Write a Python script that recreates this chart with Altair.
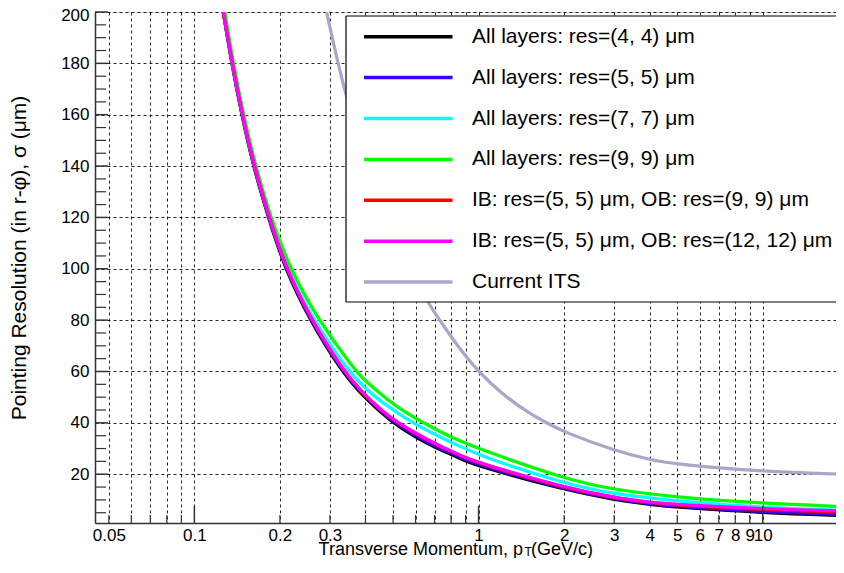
import altair as alt
import pandas as pd

# ---------------- data ----------------
series_labels = [
    "All layers: res=(4, 4) μm",
    "All layers: res=(5, 5) μm",
    "All layers: res=(7, 7) μm",
    "All layers: res=(9, 9) μm",
    "IB: res=(5, 5) μm, OB: res=(9, 9) μm",
    "IB: res=(5, 5) μm, OB: res=(12, 12) μm",
    "Current ITS",
]
series_colors = ["#000000", "#3d00ff", "#00ffff", "#00ff00", "#ff0000", "#ff00ff", "#aba5c8"]

pt_common = [0.1264, 0.1353, 0.1467, 0.1611, 0.182, 0.2083, 0.2549, 0.3294, 0.4, 0.4935,
             0.6, 0.7, 0.8, 0.9, 1, 2, 3, 4, 5, 10, 19.2]
sigma_4 = [200, 180, 160, 140, 120, 100, 80, 60, 49.3, 40.3, 34.4, 30.5, 27.7, 25.1, 23.1,
           13.9, 10.1, 8.2, 7.1, 5.0, 3.9]
sigma_5 = [200, 180.5, 160.5, 140.5, 120.5, 100.5, 80.5, 60.5, 49.8, 40.8, 35.0, 31.0, 28.2,
           25.6, 23.6, 14.2, 10.4, 8.5, 7.5, 5.3, 4.3]
sigma_ib5_ob9 = [200, 181, 161, 141, 121, 101, 81, 61, 50.2, 41.3, 35.8, 31.8, 28.8, 26.3,
                 24.2, 14.6, 10.8, 8.8, 7.9, 6.1, 5.2]
sigma_ib5_ob12 = [200, 181, 161, 141, 121, 101, 81, 61.2, 50.4, 41.5, 36.0, 32.0, 29.0, 26.5,
                  24.5, 14.8, 11.0, 9.0, 8.2, 6.5, 5.7]

pt_7 = [0.1268, 0.1358, 0.1473, 0.162, 0.1835, 0.2115, 0.262, 0.348, 0.4, 0.449, 0.6, 0.8, 1,
        2, 3, 5, 10, 19.2]
sigma_7 = [200, 180, 160, 140, 120, 100, 80, 60, 53.4, 48.5, 39.0, 32.5, 27.3, 16.3, 12.2, 9.5,
           7.0, 5.9]

pt_9 = [0.128, 0.137, 0.1487, 0.164, 0.1854, 0.2168, 0.2727, 0.367, 0.4, 0.449, 0.5, 0.6, 0.7,
        0.8, 1, 2, 3, 5, 10, 19.2]
sigma_9 = [200, 180, 160, 140, 120, 100, 80, 60.5, 56.3, 51.5, 47.3, 41.6, 37.7, 34.4, 29.9,
           18.2, 13.9, 11.0, 8.6, 7.4]

pt_its = [0.2918, 0.338, 0.4, 0.5, 0.656, 0.7, 0.8, 0.9, 1, 1.2, 1.5, 1.735, 2, 3, 4, 5, 10, 19.2]
sigma_its = [200, 168, 143, 115, 87.6, 83, 73.5, 66, 60, 51.5, 43.8, 40, 36.4, 29.2, 25.6, 23.8,
             21, 20]

x_grid_values = [0.05, 0.06, 0.07, 0.08, 0.09, 0.1, 0.2, 0.3, 0.4, 0.5, 0.6, 0.7, 0.8, 0.9,
                 1, 2, 3, 4, 5, 6, 7, 8, 9, 10]
x_label_values = [0.05, 0.1, 0.2, 0.3, 1, 2, 3, 4, 5, 6, 7, 8, 9, 10]
x_major_ticks = [0.1, 1, 10]
y_major_values = [20, 40, 60, 80, 100, 120, 140, 160, 180, 200]
y_minor_values = [v for v in range(5, 200, 5) if v % 20 != 0]

# ---------------- build tables ----------------
curves = [
    (sigma_4, pt_common), (sigma_5, pt_common), (sigma_7, pt_7), (sigma_9, pt_9),
    (sigma_ib5_ob9, pt_common), (sigma_ib5_ob12, pt_common), (sigma_its, pt_its),
]
rows = []
for name, (sig, pts) in zip(series_labels, curves):
    for p, s in zip(pts, sig):
        rows.append({"series": name, "pt": p, "sigma": s})
df = pd.DataFrame(rows)

x_minor = [v for v in x_grid_values if v not in x_major_ticks]
df_xmin = pd.DataFrame({"v": x_minor})
df_xmaj = pd.DataFrame({"v": x_major_ticks})
df_ymaj = pd.DataFrame({"v": y_major_values})
df_ymin = pd.DataFrame({"v": y_minor_values})

W, H = 741, 511
FONT = "Liberation Sans"

xscale = alt.Scale(type="log", domain=[0.0447, 18.1], nice=False)
yscale = alt.Scale(domain=[1, 200], nice=False, zero=False)

label_list = "[" + ",".join(repr(v) for v in x_label_values) + "]"
x_axis = alt.Axis(
    values=x_grid_values, grid=True, gridColor="black", gridDash=[3, 3], gridOpacity=0.85,
    ticks=False, domainColor="#333333", domainWidth=1.5, labelFont=FONT, labelFontSize=17,
    labelColor="black", labelPadding=4, labelFlush=False, labelOverlap=False, title=None,
    labelExpr=f"indexof({label_list}, datum.value) >= 0 ? '' + datum.value : ''",
)
y_axis = alt.Axis(
    values=y_major_values, grid=True, gridColor="black", gridDash=[3, 3], gridOpacity=0.85,
    ticks=False, domainColor="#333333", domainWidth=1.5, labelFont=FONT, labelFontSize=17,
    labelColor="black", labelPadding=6, labelOverlap=False, title=None,
    labelOffset=alt.condition("datum.value == 200", alt.value(3), alt.value(0)),
)

layers = []
for name, color in zip(series_labels, series_colors):
    layers.append(
        alt.Chart(df).transform_filter(alt.datum.series == name)
        .mark_line(color=color, strokeWidth=3.2, interpolate="basis", clip=True)
        .encode(
            x=alt.X("pt:Q", scale=xscale, axis=x_axis),
            y=alt.Y("sigma:Q", scale=yscale, axis=y_axis),
        )
    )

tick_x_minor = alt.Chart(df_xmin).mark_rule(color="#333333", strokeWidth=1.2).encode(
    x=alt.X("v:Q", scale=xscale, axis=x_axis), y=alt.value(H), y2=alt.value(H - 8))
tick_x_major = alt.Chart(df_xmaj).mark_rule(color="#333333", strokeWidth=1.5).encode(
    x=alt.X("v:Q", scale=xscale, axis=x_axis), y=alt.value(H), y2=alt.value(H - 17))
tick_y_minor = alt.Chart(df_ymin).mark_rule(color="#333333", strokeWidth=1.2).encode(
    y=alt.Y("v:Q", scale=yscale, axis=y_axis), x=alt.value(0), x2=alt.value(11))
tick_y_major = alt.Chart(df_ymaj).mark_rule(color="#333333", strokeWidth=1.5).encode(
    y=alt.Y("v:Q", scale=yscale, axis=y_axis), x=alt.value(0), x2=alt.value(13))

# ---------------- legend box (open on the right: it runs past the picture's edge) ----------------
one = pd.DataFrame({"a": [0]})
BX0, BX1, BY0, BY1 = 251, 760, 4, 290
legend_layers = [
    alt.Chart(one).mark_rect(fill="white", strokeWidth=0, clip=False)
    .encode(x=alt.value(BX0), x2=alt.value(BX1), y=alt.value(BY0), y2=alt.value(BY1)),
    alt.Chart(one).mark_rule(color="black", strokeWidth=1.2)
    .encode(x=alt.value(BX0), x2=alt.value(BX1), y=alt.value(BY0)),
    alt.Chart(one).mark_rule(color="black", strokeWidth=1.2)
    .encode(x=alt.value(BX0), x2=alt.value(BX1), y=alt.value(BY1)),
    alt.Chart(one).mark_rule(color="black", strokeWidth=1.2)
    .encode(x=alt.value(BX0), y=alt.value(BY0), y2=alt.value(BY1)),
]
row_top, row_step = 24.7, 40.9
for i, (name, color) in enumerate(zip(series_labels, series_colors)):
    yy = row_top + i * row_step
    legend_layers.append(
        alt.Chart(one).mark_rule(color=color, strokeWidth=3.5)
        .encode(x=alt.value(269), x2=alt.value(357.5), y=alt.value(yy))
    )
    legend_layers.append(
        alt.Chart(pd.DataFrame({"label": [name]})).mark_text(
            align="left", baseline="middle", font=FONT, fontSize=21, color="black"
        ).encode(x=alt.value(377), y=alt.value(yy), text="label:N")
    )

# ---------------- axis titles ----------------
def txt(s, x, y, size=18, align="center", angle=0):
    kw = dict(align=align, baseline="middle", font=FONT, fontSize=size, color="black")
    if angle:
        kw["angle"] = angle
    return alt.Chart(pd.DataFrame({"t": [s]})).mark_text(**kw).encode(
        x=alt.value(x), y=alt.value(y), text="t:N")

titles = [
    txt("Pointing Resolution (in r-φ), σ (μm)", -75, 246, size=21, angle=270),
    txt("Transverse Momentum, p", 428, 537.5, align="right"),
    txt("T", 429.5, 539.5, size=12, align="left"),
    txt("(GeV/c)", 436, 537.5, align="left"),
]

chart = alt.layer(
    *layers, tick_x_minor, tick_x_major, tick_y_minor, tick_y_major, *legend_layers, *titles
).properties(
    width=W, height=H,
    autosize=alt.AutoSizeParams(type="none"),
    padding={"left": 87, "top": 4, "right": 0, "bottom": 35},
).configure_view(stroke=None).configure(background="white")

chart.save("out.html", embed_options={"renderer": "svg", "actions": False})
